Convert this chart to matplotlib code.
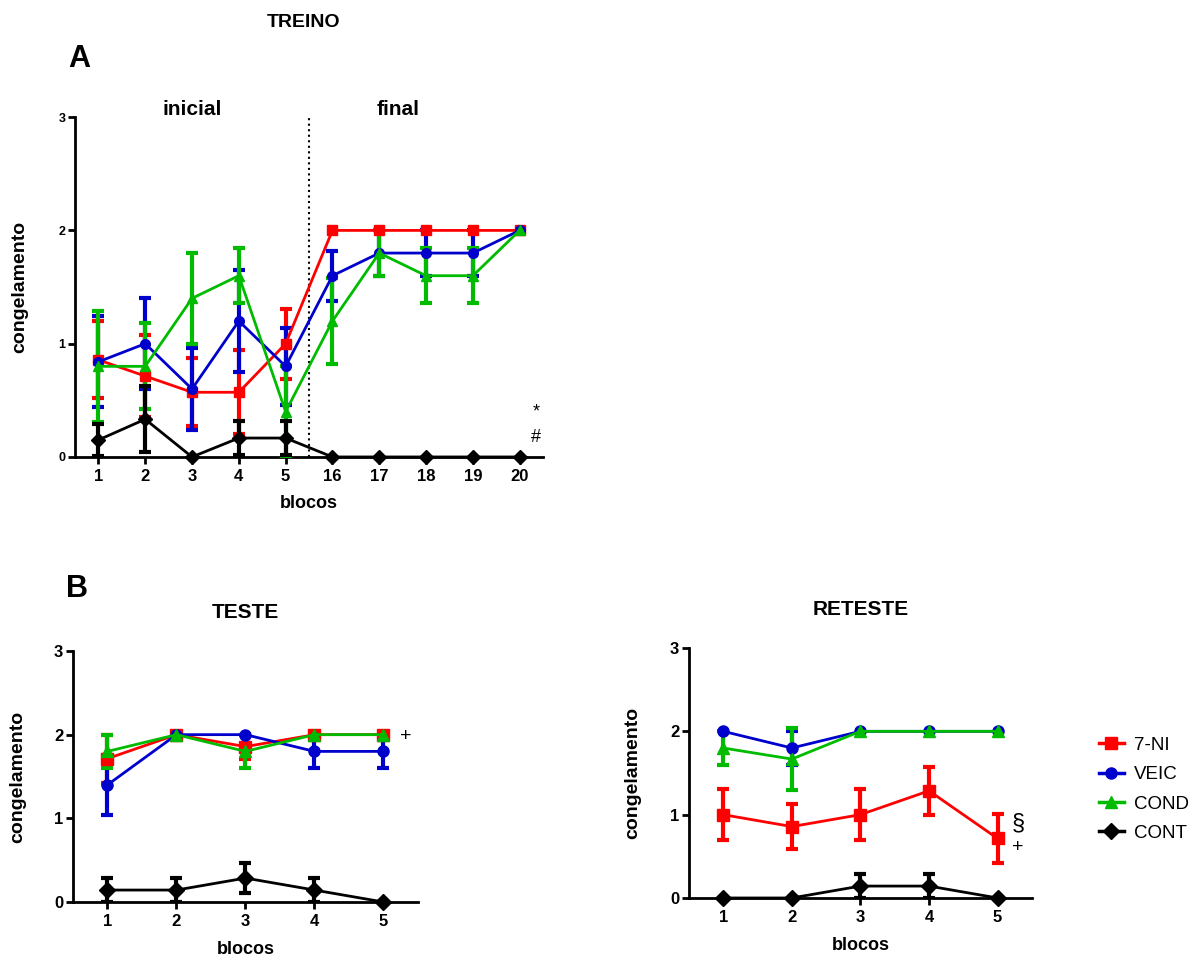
import numpy as np
import matplotlib
matplotlib.use("Agg")
import matplotlib.pyplot as plt
from matplotlib.lines import Line2D

plt.rcParams['font.family'] = 'Liberation Sans'
plt.rcParams['font.weight'] = 'bold'
plt.rcParams['axes.labelweight'] = 'bold'
plt.rcParams['axes.titleweight'] = 'bold'

# -----------------------------
# dados (médias e EPM)
# -----------------------------
blocos_treino = ['1', '2', '3', '4', '5', '16', '17', '18', '19', '20']
treino_7ni = [0.857, 0.714, 0.571, 0.571, 1.0, 2.0, 2.0, 2.0, 2.0, 2.0]
treino_7ni_epm = [0.34, 0.36, 0.30, 0.37, 0.31, 0, 0, 0, 0, 0]
treino_veic = [0.84, 1.0, 0.6, 1.2, 0.8, 1.6, 1.8, 1.8, 1.8, 2.0]
treino_veic_epm = [0.40, 0.40, 0.36, 0.45, 0.34, 0.22, 0.2, 0.2, 0.2, 0]
treino_cond = [0.8, 0.8, 1.4, 1.6, 0.4, 1.2, 1.8, 1.6, 1.6, 2.0]
treino_cond_epm = [0.49, 0.38, 0.40, 0.245, 0.40, 0.38, 0.2, 0.245, 0.245, 0]
treino_cont = [0.15, 0.333, 0, 0.167, 0.167, 0, 0, 0, 0, 0]
treino_cont_epm = [0.14, 0.29, 0, 0.15, 0.15, 0, 0, 0, 0, 0]

blocos_teste = [1, 2, 3, 4, 5]
teste_7ni = [1.714, 2.0, 1.857, 2.0, 2.0]
teste_7ni_epm = [0.286, 0, 0.143, 0, 0]
teste_veic = [1.4, 2.0, 2.0, 1.8, 1.8]
teste_veic_epm = [0.36, 0, 0, 0.2, 0.2]
teste_cond = [1.8, 2.0, 1.8, 2.0, 2.0]
teste_cond_epm = [0.2, 0, 0.2, 0, 0]
teste_cont = [0.143, 0.143, 0.286, 0.143, 0]
teste_cont_epm = [0.143, 0.143, 0.18, 0.143, 0]

reteste_7ni = [1.0, 0.857, 1.0, 1.286, 0.714]
reteste_7ni_epm = [0.31, 0.265, 0.31, 0.285, 0.29]
reteste_veic = [2.0, 1.8, 2.0, 2.0, 2.0]
reteste_veic_epm = [0, 0.2, 0, 0, 0]
reteste_cond = [1.8, 1.667, 2.0, 2.0, 2.0]
reteste_cond_epm = [0.2, 0.37, 0, 0, 0]
reteste_cont = [0, 0, 0.143, 0.143, 0]
reteste_cont_epm = [0, 0, 0.143, 0.143, 0]

grupos = ['7-NI', 'VEIC', 'COND', 'CONT']
cores = {'7-NI': '#ff0000', 'VEIC': '#0000cc', 'COND': '#00bb00', 'CONT': '#000000'}
marcadores = {'7-NI': 's', 'VEIC': 'o', 'COND': '^', 'CONT': 'D'}


def serie(ax, x, media, epm, grupo, ms):
    x = np.asarray(x, dtype=float)
    media = np.asarray(media, dtype=float)
    epm = np.asarray(epm, dtype=float)
    c = cores[grupo]
    tem = epm > 0
    if tem.any():
        ax.errorbar(x[tem], media[tem], yerr=epm[tem], fmt='none', ecolor=c,
                    elinewidth=3, capsize=4.5, capthick=3, zorder=3)
    ax.plot(x, media, color=c, lw=2, marker=marcadores[grupo], ms=ms,
            mec=c, mfc=c, zorder=4, clip_on=False)


def estilo(ax, ylab_size):
    for s in ['top', 'right']:
        ax.spines[s].set_visible(False)
    ax.spines['left'].set_linewidth(2)
    ax.spines['bottom'].set_linewidth(2)
    ax.set_ylim(0, 3)
    ax.set_yticks([0, 1, 2, 3])
    ax.tick_params(axis='both', width=2, length=5)
    ax.tick_params(axis='y', labelsize=ylab_size, pad=2)
    ax.tick_params(axis='x', labelsize=12)
    ax.set_ylabel('congelamento', fontsize=14)
    ax.set_xlabel('blocos', fontsize=13)


fig = plt.figure(figsize=(11.96, 9.6), dpi=100)

# -----------------------------
# A - TREINO
# -----------------------------
axA = fig.add_axes([0.0627, 0.524, 0.3914, 0.354])
pos = np.arange(len(blocos_treino))
dados_treino = [(treino_7ni, treino_7ni_epm), (treino_veic, treino_veic_epm),
                (treino_cond, treino_cond_epm), (treino_cont, treino_cont_epm)]
for g, (m, e) in zip(grupos, dados_treino):
    serie(axA, pos, m, e, g, 7)
axA.axvline(4.5, ymin=0, ymax=1, color='black', ls=':', lw=1.5, zorder=1)
axA.set_xlim(-0.5, 9.5)
axA.set_xticks(pos)
axA.set_xticklabels(blocos_treino)
estilo(axA, 9)
axA.yaxis.set_label_coords(-0.100, 0.5)
axA.xaxis.set_label_coords(0.5, -0.112)
axA.text(2.0, 3.07, 'inicial', ha='center', va='center', fontsize=15)
axA.text(6.4, 3.07, 'final', ha='center', va='center', fontsize=15)
axA.text(9.35, 0.4, '*', ha='center', va='center', fontsize=13, fontweight='normal')
axA.text(9.35, 0.17, '#', ha='center', va='center', fontsize=13, fontweight='normal')

# -----------------------------
# B - TESTE / RETESTE
# -----------------------------
axT = fig.add_axes([0.061, 0.0604, 0.2885, 0.2615])
dados_teste = [(teste_7ni, teste_7ni_epm), (teste_veic, teste_veic_epm),
               (teste_cond, teste_cond_epm), (teste_cont, teste_cont_epm)]
for g, (m, e) in zip(grupos, dados_teste):
    serie(axT, blocos_teste, m, e, g, 8)
axT.set_xlim(0.5, 5.5)
axT.set_xticks(blocos_teste)
estilo(axT, 12)
axT.yaxis.set_label_coords(-0.136, 0.5)
axT.xaxis.set_label_coords(0.5, -0.155)
axT.set_title('TESTE', fontsize=15, pad=24)
axT.text(5.32, 1.98, '+', ha='center', va='center', fontsize=14, fontweight='normal')

axR = fig.add_axes([0.576, 0.0646, 0.2868, 0.2604])
dados_reteste = [(reteste_7ni, reteste_7ni_epm), (reteste_veic, reteste_veic_epm),
                 (reteste_cond, reteste_cond_epm), (reteste_cont, reteste_cont_epm)]
for g, (m, e) in zip(grupos, dados_reteste):
    serie(axR, blocos_teste, m, e, g, 8)
axR.set_xlim(0.5, 5.5)
axR.set_xticks(blocos_teste)
estilo(axR, 12)
axR.yaxis.set_label_coords(-0.14, 0.5)
axR.xaxis.set_label_coords(0.5, -0.156)
axR.set_title('RETESTE', fontsize=15, pad=24)
axR.text(5.3, 0.9, '§', ha='center', va='center', fontsize=17, fontweight='normal')
axR.text(5.3, 0.6, '+', ha='center', va='center', fontsize=14, fontweight='normal')

# legenda
alcas = [Line2D([], [], color=cores[g], marker=marcadores[g], lw=2.5, ms=8)
         for g in grupos]
fig.legend(alcas, grupos, loc='upper left', bbox_to_anchor=(0.905, 0.25),
           frameon=False, handlelength=1.3, handletextpad=0.55,
           labelspacing=0.65, prop={'family': 'Liberation Sans', 'weight': 'normal', 'size': 13.5})

# letras e título
fig.text(0.2535, 0.977, 'TREINO', ha='center', va='center', fontsize=14)
fig.text(0.066, 0.939, 'A', ha='center', va='center', fontsize=22)
fig.text(0.064, 0.386, 'B', ha='center', va='center', fontsize=22)

fig.savefig('out.png', dpi=100)
